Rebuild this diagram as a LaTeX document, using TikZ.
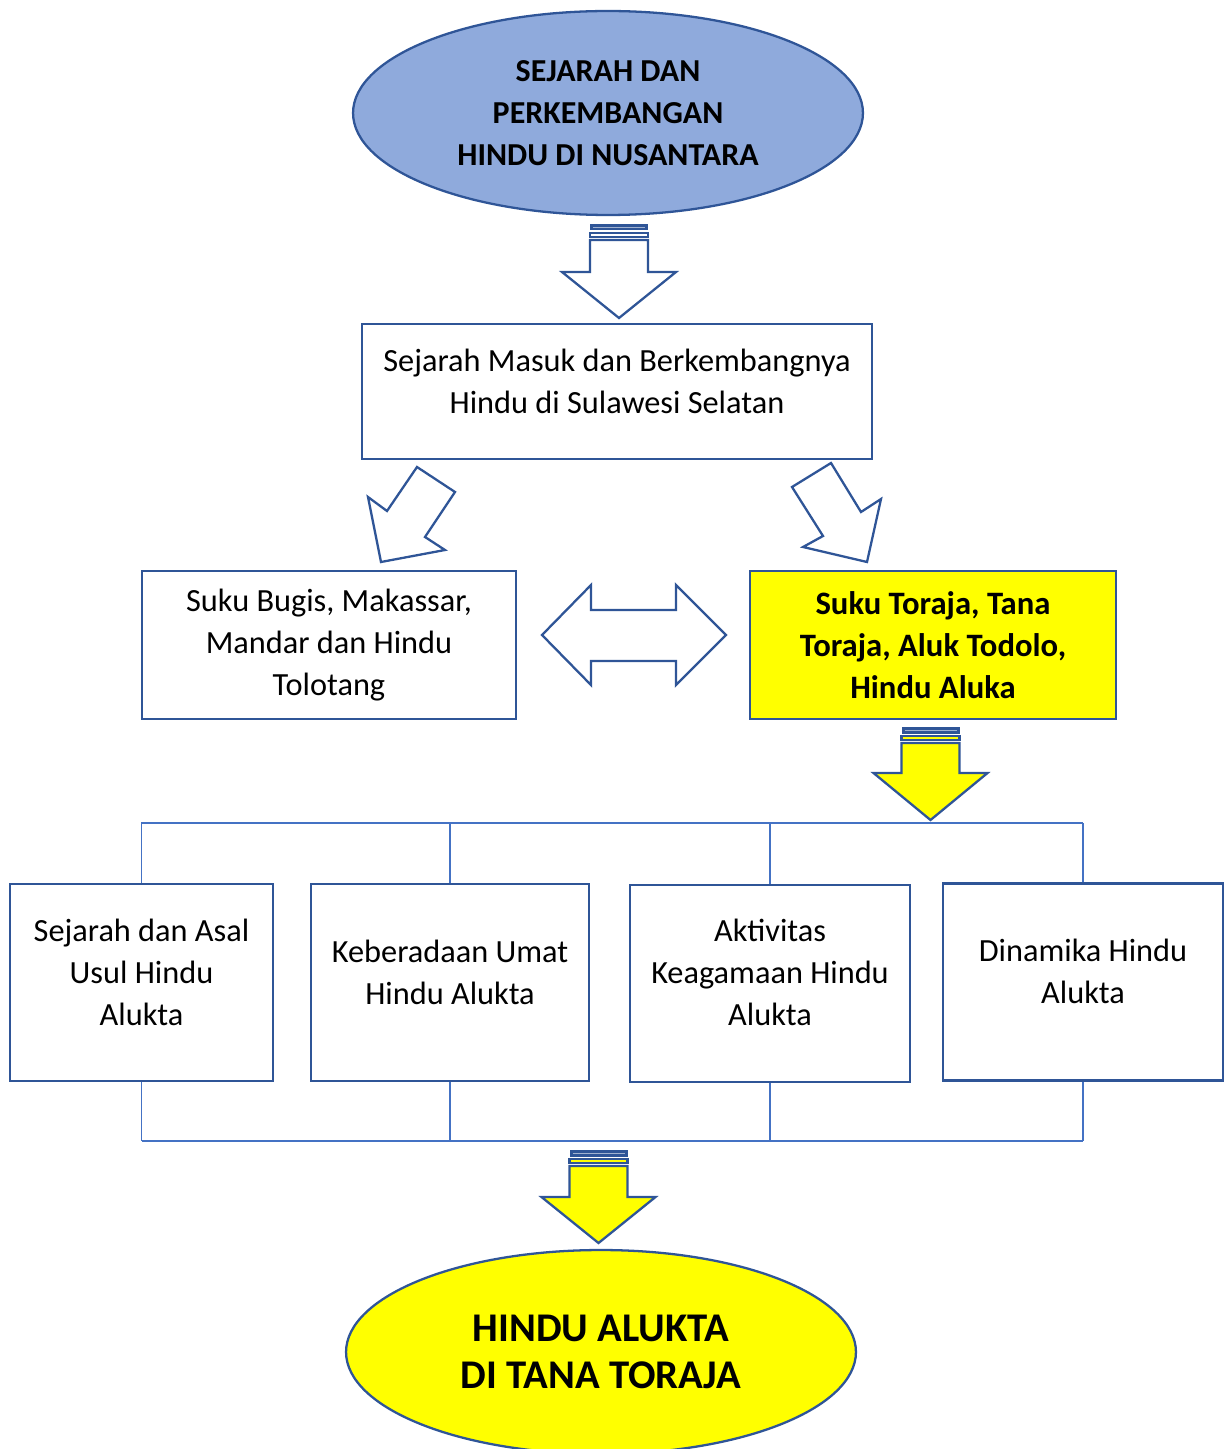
\documentclass[tikz,border=0pt]{standalone}
\usepackage{fontspec}
\setmainfont{Carlito}
\usepackage{xcolor}
\usepackage{tikz}
\usetikzlibrary{shapes.geometric}

\definecolor{edgeblue}{RGB}{47,85,151}
\definecolor{linkblue}{RGB}{68,114,196}
\definecolor{topblue}{RGB}{143,170,220}
\definecolor{hiyellow}{RGB}{255,255,0}

\tikzset{
  box/.style={draw=edgeblue, line width=1.3pt, rectangle, inner sep=0pt, minimum height=2.96cm},
  boxtext/.style={align=center, inner sep=0pt, font=\fontsize{18.4}{23.8}\selectfont},
  oval/.style={draw=edgeblue, line width=1.3pt, ellipse, inner sep=0pt, minimum width=10.2cm, minimum height=4.08cm, align=center},
  blockarrow/.style={draw=edgeblue, line width=1.3pt, line join=miter},
  link/.style={draw=linkblue, line width=0.9pt},
}

\begin{document}
\begin{tikzpicture}[x=0.02cm, y=-0.02cm]
  \useasboundingbox (0,0) rectangle (1230,1449);

  \node[oval, fill=topblue, font=\bfseries\fontsize{18.2}{23.8}\selectfont] (origin) at (608,113)
    {SEJARAH DAN\\PERKEMBANGAN\\HINDU DI NUSANTARA};

  \node[box, minimum width=10.2cm, minimum height=2.7cm] (sulsel) at (617,391.5) {};
  \node[boxtext] (sulsel-t) at ([yshift=0.2cm]sulsel.center)
    {Sejarah Masuk dan Berkembangnya\\Hindu di Sulawesi Selatan};

  \node[box, minimum width=7.48cm, boxtext] (bugis) at (329,645)
    {Suku Bugis, Makassar,\\Mandar dan Hindu\\Tolotang};
  \node[box, minimum width=7.32cm, fill=hiyellow, boxtext, font=\bfseries\fontsize{18.6}{23.8}\selectfont] (toraja) at (933,645)
    {Suku Toraja, Tana\\Toraja, Aluk Todolo,\\Hindu Aluka};

  % four themes
  \node[box, minimum width=5.26cm, minimum height=3.94cm] (asal) at (141.5,982.5) {};
  \node[box, minimum width=5.56cm, minimum height=3.94cm] (umat) at (450,982.5) {};
  \node[box, minimum width=5.6cm, minimum height=3.94cm] (aktiv) at (770,983.5) {};
  \node[box, minimum width=5.6cm, minimum height=3.94cm] (dinamika) at (1083,982) {};
  \node[boxtext] (asal-t) at ([yshift=0.2cm]asal.center) {Sejarah dan Asal\\Usul Hindu\\Alukta};
  \node[boxtext] (umat-t) at ([yshift=0.2cm]umat.center) {Keberadaan Umat\\Hindu Alukta};
  \node[boxtext] (aktiv-t) at ([yshift=0.22cm]aktiv.center) {Aktivitas\\Keagamaan Hindu\\Alukta};
  \node[boxtext] (dinamika-t) at ([yshift=0.22cm]dinamika.center) {Dinamika Hindu\\Alukta};

  \node[oval, fill=hiyellow, font=\bfseries\fontsize{23.2}{27.2}\selectfont] (alukta) at (601,1352)
    {HINDU ALUKTA\\DI TANA TORAJA};

  % bracket above and below the themes
  \coordinate (up) at (141,823);
  \coordinate (down) at (142,1141);
  \draw[link] (up) -- (up -| dinamika.north);
  \draw[link] (down) -- (down -| dinamika.south);
  \foreach \n in {asal,umat,aktiv,dinamika} {
    \draw[link] (\n.north) -- (\n.north |- up);
    \draw[link] (\n.south) -- (\n.south |- down);
  }

  % striped block arrows pointing down
  \foreach \cx/\ty/\hy/\tipy/\col in {619/224/272/318/white, 930.5/727/773/820/hiyellow, 598.5/1150/1197/1243/hiyellow} {
    \draw[blockarrow, fill=\col] ({\cx-29},{\ty+16}) -- ({\cx-29},\hy) -- ({\cx-57},\hy) -- (\cx,\tipy)
      -- ({\cx+57},\hy) -- ({\cx+29},\hy) -- ({\cx+29},{\ty+16}) -- cycle;
    \fill[edgeblue] ({\cx-29},\ty) rectangle ({\cx+29},{\ty+6.5});
    \draw[white!55!edgeblue, line width=0.4pt] ({\cx-26},{\ty+3}) -- ({\cx+26},{\ty+3});
    \draw[blockarrow, fill=\col] ({\cx-29},{\ty+9}) rectangle ({\cx+29},{\ty+13});
  }

  % slanted block arrows
  \draw[blockarrow, fill=white] (417,467) -- (455,492) -- (425,537) -- (445,550) -- (381,562)
    -- (368,497) -- (387,511) -- cycle;
  \draw[blockarrow, fill=white] (831,463) -- (861,512) -- (881,499) -- (867,562) -- (803,547)
    -- (823,536) -- (792,487) -- cycle;

  % two-way block arrow
  \draw[blockarrow, fill=white] (542,635) -- (591,585) -- (591,610) -- (676,610) -- (676,585)
    -- (726,635) -- (676,685) -- (676,661) -- (591,661) -- (591,685) -- cycle;
\end{tikzpicture}
\end{document}
